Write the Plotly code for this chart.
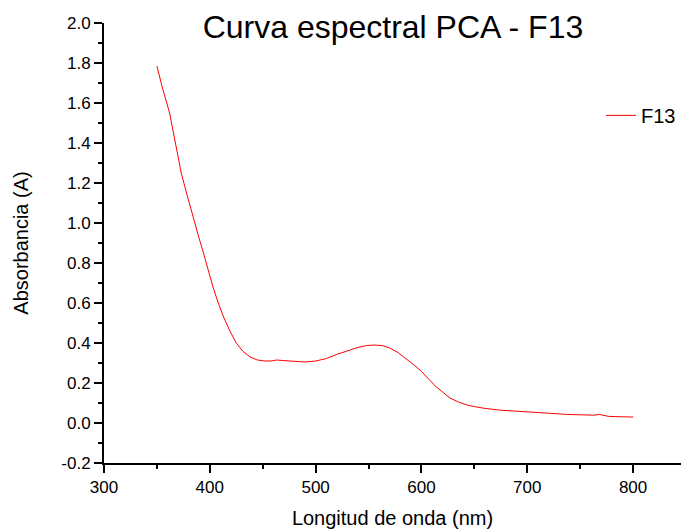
import plotly.graph_objects as go

wavelength = [350, 355, 362, 368, 373, 378, 384, 389, 394, 399, 403, 408, 413, 419,
              425, 431, 438, 445, 452, 458, 463, 470, 480, 490, 500, 510, 520, 530,
              540, 548, 555, 563, 570, 578, 586, 593, 600, 607, 614, 620, 627, 635,
              643, 650, 660, 675, 690, 706, 720, 737, 750, 757, 763, 768, 772, 777,
              790, 800]
absorbance = [1.785, 1.68, 1.55, 1.39, 1.25, 1.15, 1.03, 0.94, 0.85, 0.75, 0.68, 0.60,
              0.53, 0.46, 0.40, 0.36, 0.33, 0.315, 0.31, 0.31, 0.315, 0.312, 0.307,
              0.305, 0.31, 0.322, 0.343, 0.362, 0.378, 0.387, 0.39, 0.387, 0.375,
              0.352, 0.32, 0.29, 0.258, 0.22, 0.18, 0.155, 0.125, 0.105, 0.09, 0.082,
              0.073, 0.064, 0.058, 0.053, 0.049, 0.043, 0.04, 0.037, 0.039, 0.043,
              0.037, 0.033, 0.031, 0.03]

y_ticks = [-0.2, 0.0, 0.2, 0.4, 0.6, 0.8, 1.0, 1.2, 1.4, 1.6, 1.8, 2.0]
y_ticklabels = ["-0.2", "0.0", "0.2", "0.4", "0.6", "0.8", "1.0", "1.2", "1.4", "1.6",
                "1.8", "2.0"]

font = "Liberation Sans, Arial, sans-serif"

fig = go.Figure()
fig.add_trace(go.Scatter(x=wavelength, y=absorbance, mode="lines", name="F13",
                         line=dict(color="#ff0000", width=1)))

axis_common = dict(
    showline=True, linecolor="black", linewidth=2,
    ticks="outside", ticklen=8, tickwidth=2, tickcolor="black",
    showgrid=False, zeroline=False,
    tickfont=dict(family=font, size=17, color="black"),
)

fig.update_xaxes(
    range=[300, 845.3], dtick=100, tick0=300,
    minor=dict(ticks="outside", ticklen=4, tickwidth=2, dtick=50, tickcolor="black"),
    title=dict(text="Longitud de onda (nm)", font=dict(family=font, size=20, color="black"),
               standoff=16),
    **axis_common,
)
fig.update_yaxes(
    range=[-0.2, 2.0], tickvals=y_ticks, ticktext=y_ticklabels,
    minor=dict(ticks="outside", ticklen=4, tickwidth=2, dtick=0.1, tick0=0,
               tickcolor="black"),
    title=dict(text="Absorbancia (A)", font=dict(family=font, size=20, color="black"),
               standoff=27),
    **axis_common,
)

fig.update_layout(
    width=681, height=529,
    margin=dict(l=104, r=0, t=23, b=66),
    plot_bgcolor="white", paper_bgcolor="white",
    title=dict(text="Curva espectral PCA - F13", x=0.577, xanchor="center",
               y=0.95, yanchor="middle",
               font=dict(family=font, size=32, color="black")),
    legend=dict(x=1, xanchor="right", y=0.79, yanchor="middle",
                bgcolor="rgba(0,0,0,0)", font=dict(family=font, size=20, color="black")),
    showlegend=True,
)

fig.write_html("out.html", config={"displayModeBar": False},
               post_script="document.body.style.margin='0';")
